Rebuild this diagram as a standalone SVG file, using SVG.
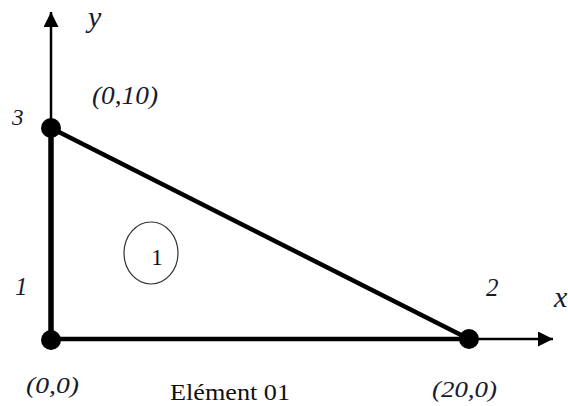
<svg xmlns="http://www.w3.org/2000/svg" width="568" height="406" viewBox="0 0 568 406">
<defs>
<style>
text{font-family:'Liberation Serif','DejaVu Serif',serif;}
.lbl{font-style:italic;fill:#1a1a2e;}
.cap{fill:#111;}
.axis{stroke:#000;stroke-width:2.5;fill:none;}
.edge{stroke:#000;stroke-width:4.5;fill:none;stroke-linecap:round;}
.node{fill:#000;}
</style>
<marker id="arr" viewBox="0 0 10 10" refX="10" refY="5" markerWidth="6" markerHeight="6" markerUnits="strokeWidth" orient="auto">
<path d="M0,0 L10,5 L0,10 z" fill="#000"/>
</marker>
</defs>
<rect width="568" height="406" fill="#fff"/>
<g id="connectors">
<line class="axis" x1="51" y1="340" x2="51" y2="12" marker-end="url(#arr)"/>
<line class="axis" x1="51" y1="339" x2="553" y2="339" marker-end="url(#arr)"/>
<line class="edge" x1="51" y1="128" x2="51" y2="340" style="stroke-width:5.5"/>
<line class="edge" x1="51" y1="339" x2="469" y2="339"/>
<line class="edge" x1="51" y1="128" x2="469" y2="339"/>
</g>
<g id="node3">
<circle class="node" cx="51" cy="128" r="10"/>
<text class="lbl" x="12" y="125" font-size="23">3</text>
<text class="lbl" x="92" y="104" font-size="25" textLength="66" lengthAdjust="spacingAndGlyphs">(0,10)</text>
</g>
<g id="node1">
<circle class="node" cx="51" cy="340" r="10"/>
<text class="lbl" x="15" y="295" font-size="25">1</text>
<text class="lbl" x="26" y="393" font-size="24" textLength="53" lengthAdjust="spacingAndGlyphs">(0,0)</text>
</g>
<g id="node2">
<circle class="node" cx="469" cy="339" r="10"/>
<text class="lbl" x="486" y="296" font-size="25">2</text>
<text class="lbl" x="432" y="397" font-size="24" textLength="65" lengthAdjust="spacingAndGlyphs">(20,0)</text>
</g>
<g id="element">
<ellipse cx="151" cy="253" rx="27" ry="31" fill="none" stroke="#333" stroke-width="1.2"/>
<text class="cap" x="157" y="265" font-size="23" text-anchor="middle">1</text>
</g>
<g id="axis-labels">
<text class="lbl" x="88" y="27" font-size="30">y</text>
<text class="lbl" x="554" y="307" font-size="30">x</text>
</g>
<text class="cap" x="170" y="400" font-size="23" textLength="120" lengthAdjust="spacingAndGlyphs">Elément 01</text>
</svg>
